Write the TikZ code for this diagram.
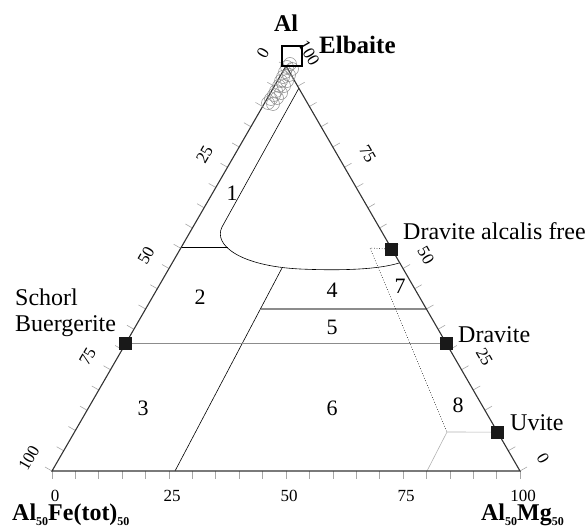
\documentclass[tikz,border=0pt]{standalone}
\usepackage{fontspec}
\setmainfont{Liberation Serif}
\usetikzlibrary{calc}
\newcommand{\lowidx}[1]{\raisebox{-5pt}{\fontsize{12}{12}\selectfont #1}}

\begin{document}
\begin{tikzpicture}[x=1pt,y=-1pt,
    side/.style={draw=black!80,line width=1.1pt},
    field/.style={draw=black,line width=0.6pt},
    tieline/.style={draw=black!45,line width=1.2pt},
    scale line/.style={draw=black!35,line width=0.6pt},
    member/.style={fill=black!90,inner sep=0pt,minimum size=13pt},
    lab/.style={font=\fontsize{24}{26}\selectfont,inner sep=0pt},
    num/.style={font=\fontsize{17}{19}\selectfont,inner sep=0pt},
    zone/.style={font=\fontsize{22}{24}\selectfont,inner sep=0pt},
    corner/.style={font=\bfseries\fontsize{24}{26}\selectfont,inner sep=0pt}]
  \useasboundingbox (0,0) rectangle (588,529);
  \coordinate (Fe) at (52,471);
  \coordinate (Mg) at (520,471);
  \coordinate (Al) at (286,66);

  % scales
  \foreach \i in {0,...,20} {
    \draw[scale line] ($(Fe)!\i/20!(Mg)$) -- ++(0,8);
    \draw[scale line] ($(Al)!\i/20!(Fe)$) -- ++(-7,-4);
    \draw[scale line] ($(Al)!\i/20!(Mg)$) -- ++(7,-4);
  }
  \foreach \v/\w in {0/100,25/75,50/50,75/25,100/0} {
    \node[num] at ($(Fe)!\v/100!(Mg)+(3,25)$) {\v};
    \node[num,rotate=60] at ($(Al)!\v/100!(Fe)+(-23,-13)$) {\v};
    \node[num,rotate=-60] at ($(Al)!\v/100!(Mg)+(23,-13)$) {\w};
  }

  % fields
  \draw[field] (299,88) -- (222,227) .. controls (213,245) and (240,266) .. (300,269)
    .. controls (345,271) and (380,269) .. (399,263);
  \draw[field] (181,247) -- (228,247);
  \draw[field] (282,268) -- (175,471);
  \draw[tieline] (261,309) -- (426,309);

  % end members
  \node[member] (schorl) at ($(Al)!0.686!(Fe)$) {};
  \node[member] (dravite) at ($(Al)!0.686!(Mg)$) {};
  \node[member] (daf) at ($(Al)!0.452!(Mg)$) {};
  \node[member] (uvite) at ($(Al)!0.904!(Mg)$) {};
  \coordinate (kink) at (447,432);
  \draw[tieline] (schorl) -- (dravite);
  \draw[field,dotted] (daf) -- (370,248) -- (kink);
  \draw[black!30,line width=0.6pt] (uvite) -- (kink) -- (427,471);

  \draw[side] (Fe) -- (Mg) -- (Al) -- cycle;
  \node[member] at (schorl) {};
  \node[member] at (dravite) {};
  \node[member] at (daf) {};
  \node[member] at (uvite) {};

  % analyses
  \foreach \x/\y in {290/64,287/67,292/69,285/72,289/75,283/77,287/81,281/81,
      284/86,279/86,276/91,281/93,274/95,277/98,271/99,268/103,273/104}
    \draw[black!45,line width=0.5pt] (\x,\y) circle (6.5);
  \node[draw,line width=1.2pt,minimum size=20pt,inner sep=0pt] (elbaite) at (292,56) {};

  \node[corner,anchor=base] at (286,32) {Al};
  \node[corner,anchor=base west,font=\bfseries\fontsize{25}{27}\selectfont] at (319,54) {Elbaite};
  \node[lab,anchor=base west] at (403,240) {Dravite alcalis free};
  \node[lab,anchor=base west] at (458,342) {Dravite};
  \node[lab,anchor=base west] at (510,430) {Uvite};
  \node[lab,anchor=base west] at (15,305) {Schorl};
  \node[lab,anchor=base west] at (15,331) {Buergerite};
  \node[corner,anchor=base west] at (12,520) {Al\lowidx{50}Fe(tot)\lowidx{50}};
  \node[corner,anchor=base east] at (564,520) {Al\lowidx{50}Mg\lowidx{50}};

  \foreach \n/\x/\y in {1/232/193,2/200/297,3/143/408,4/332/290,
      5/332/327,6/332/408,7/400/286,8/458/405}
    \node[zone] at (\x,\y) {\n};
\end{tikzpicture}
\end{document}
